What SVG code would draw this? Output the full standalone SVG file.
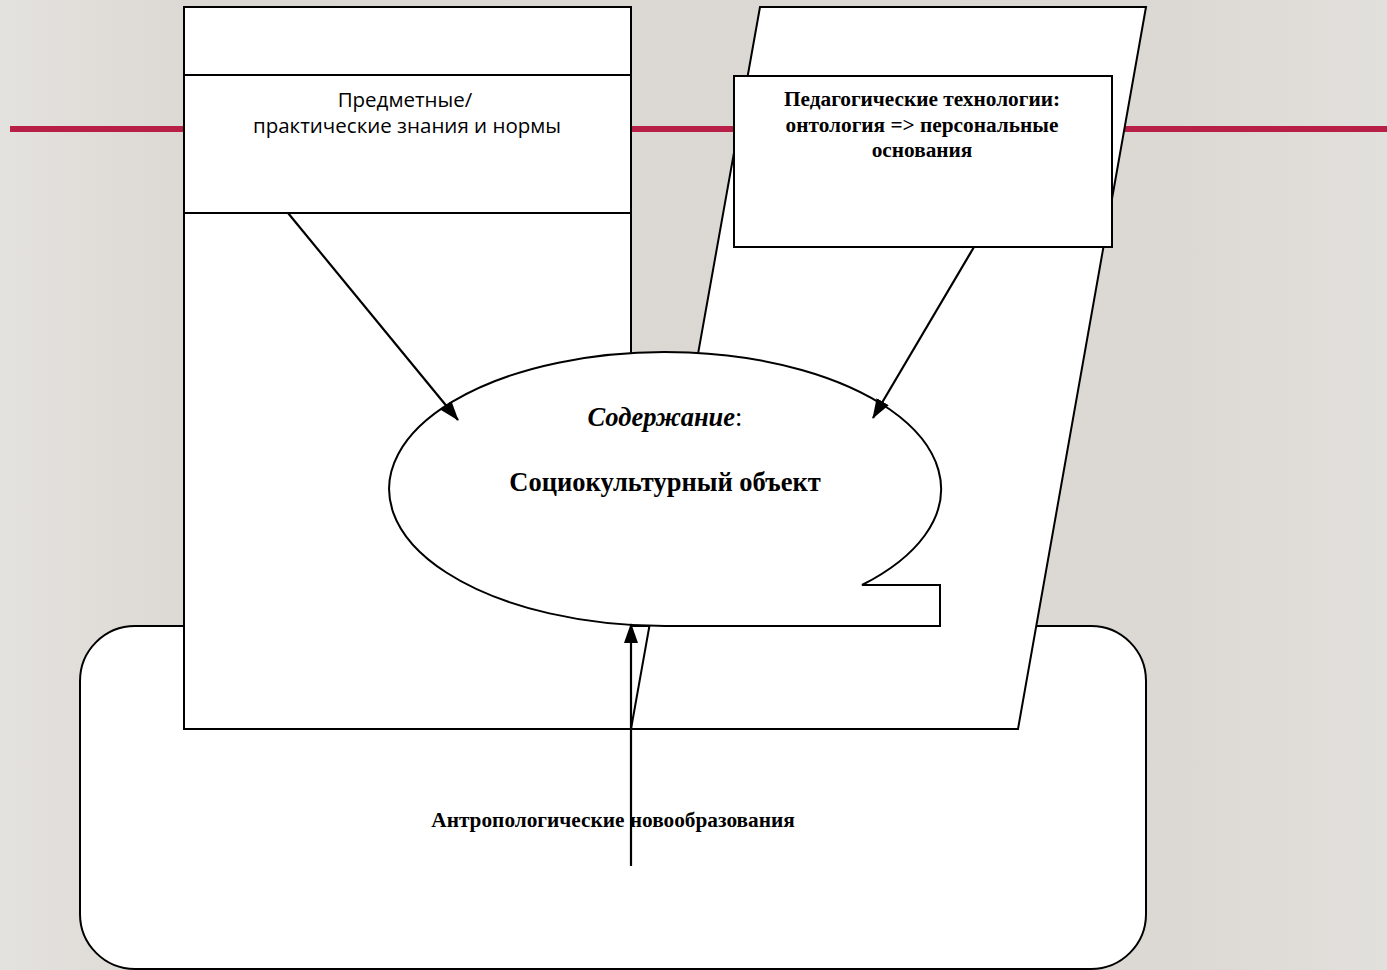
<svg xmlns="http://www.w3.org/2000/svg" width="1387" height="970" viewBox="0 0 1387 970">
<defs>
<linearGradient id="bg" x1="0" y1="0" x2="1" y2="0">
<stop offset="0" stop-color="#e4e2de"/>
<stop offset="0.15" stop-color="#dbd8d3"/>
<stop offset="0.85" stop-color="#dcd9d4"/>
<stop offset="1" stop-color="#e2e0dc"/>
</linearGradient>
<marker id="ahBig" viewBox="0 0 20 14" refX="19" refY="7" markerWidth="20" markerHeight="14" orient="auto" markerUnits="userSpaceOnUse">
<path d="M0,0 L20,7 L0,14 Z" fill="#000"/>
</marker>
</defs>
<style>
.sh{fill:#fff;stroke:#000;stroke-width:2}
.conn{stroke:#000;stroke-width:2.2;fill:none}
.sans{font-family:"Open Sans","Noto Sans","DejaVu Sans",sans-serif;font-size:20.5px;fill:#000}
.serif{font-family:"Liberation Serif","Times New Roman",serif;font-weight:bold;fill:#000}
</style>
<rect width="1387" height="970" fill="url(#bg)"/>
<rect x="10" y="126" width="1377" height="6" fill="#b71f47"/>
<g id="anthro">
<rect class="sh" x="80" y="626" width="1066" height="343" rx="55" ry="55"/>
</g>
<g id="subject">
<rect class="sh" x="184" y="7" width="447" height="722"/>
</g>
<g id="ontology">
<polygon class="sh" points="760,7 1146,7 1018,729 631,729"/>
</g>
<g id="subject-box">
<rect class="sh" x="184" y="75" width="447" height="138"/>
<text class="sans" text-anchor="middle" x="405" y="107">Предметные/</text>
<text class="sans" text-anchor="middle" x="407" y="133">практические знания и нормы</text>
</g>
<g id="pedtech-box">
<rect class="sh" x="734" y="76" width="378" height="171"/>
<text class="serif" font-size="21.3" text-anchor="middle" x="922" y="106">Педагогические технологии:</text>
<text class="serif" font-size="21.3" text-anchor="middle" x="922" y="132">онтология =&gt; персональные</text>
<text class="serif" font-size="21.3" text-anchor="middle" x="922" y="157">основания</text>
</g>
<g id="content">
<path class="sh" d="M665,626 A276,137 0 1 1 862,585 L940,585 L940,626 Z"/>
<text class="serif" font-size="26.5" text-anchor="middle" x="665" y="426"><tspan font-style="italic">Содержание</tspan><tspan font-weight="normal">:</tspan></text>
<text class="serif" font-size="26.5" text-anchor="middle" x="665" y="491">Социокультурный объект</text>
</g>
<g id="anthro-label">
<text class="serif" font-size="21.3" text-anchor="middle" x="613" y="827">Антропологические новообразования</text>
</g>
<g id="connectors">
<line class="conn" x1="288" y1="213" x2="458" y2="420" marker-end="url(#ahBig)"/>
<line class="conn" x1="974" y1="247" x2="873" y2="418" marker-end="url(#ahBig)"/>
<line class="conn" x1="631" y1="866" x2="631" y2="624" marker-end="url(#ahBig)"/>
</g>
</svg>
